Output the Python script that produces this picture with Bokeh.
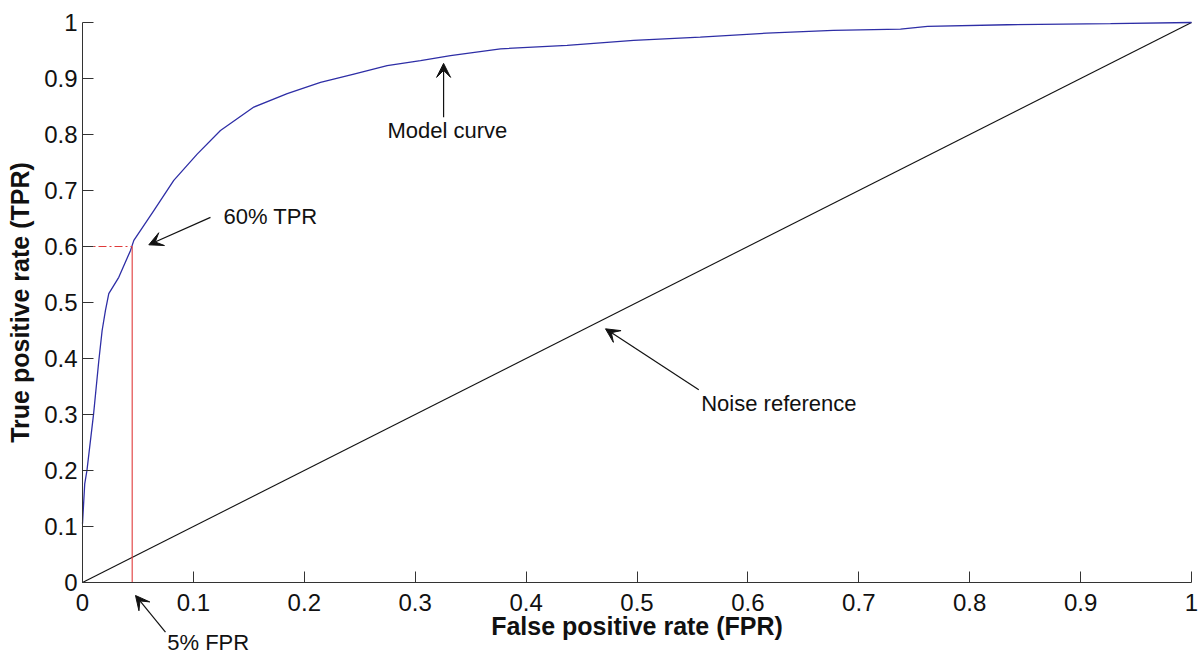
from bokeh.plotting import figure
from bokeh.models import (Range1d, FixedTicker, CustomJSTickFormatter, Label, Arrow, VeeHead)
from bokeh.embed import file_html
from bokeh.resources import INLINE

# Model ROC curve
fpr = [0.0, 0.002, 0.004, 0.010, 0.0147, 0.0177, 0.0207, 0.0237, 0.0327, 0.0433, 0.0463,
       0.0643, 0.0823, 0.1034, 0.1244, 0.1545, 0.1846, 0.2146, 0.2447, 0.2747, 0.3048,
       0.3318, 0.3769, 0.437, 0.497, 0.557, 0.617, 0.677, 0.7376, 0.762, 0.834, 0.927, 1.0]
tpr = [0.105, 0.176, 0.2, 0.301, 0.396, 0.45, 0.486, 0.516, 0.545, 0.593, 0.611,
       0.664, 0.718, 0.765, 0.807, 0.849, 0.873, 0.893, 0.908, 0.923, 0.932,
       0.941, 0.953, 0.959, 0.968, 0.974, 0.981, 0.986, 0.988, 0.993, 0.996, 0.998, 1.0]

# Noise reference (diagonal)
noise_x = [0.0, 1.0]
noise_y = [0.0, 1.0]

# Operating point
op_fpr = 0.0448
op_tpr = 0.6

ticks = [0, 0.1, 0.2, 0.3, 0.4, 0.5, 0.6, 0.7, 0.8, 0.9, 1.0]

FONT = "Liberation Sans"

W, H = 1198, 656
X0_PX, Y1_PX = 82, 22          # pixel position of x=0 and y=1 on the canvas
XPX, YPX = 1109.0, 560.0       # pixels per data unit
x_lo = -X0_PX / XPX
x_hi = (W - X0_PX) / XPX
y_hi = 1.0 + Y1_PX / YPX
y_lo = 1.0 - (H - Y1_PX) / YPX

p = figure(width=W, height=H, output_backend="svg", toolbar_location=None,
           x_range=Range1d(x_lo, x_hi), y_range=Range1d(y_lo, y_hi),
           min_border=0)
p.outline_line_color = None
p.grid.visible = False
p.background_fill_color = "white"
p.border_fill_color = "white"

fmt = CustomJSTickFormatter(code="return String(Math.round(tick*10)/10);")
for ax in (p.xaxis[0], p.yaxis[0]):
    ax.ticker = FixedTicker(ticks=ticks)
    ax.formatter = fmt
    ax.bounds = (0, 1)
    ax.fixed_location = 0
    ax.major_tick_in = 11
    ax.major_tick_out = 0
    ax.minor_tick_in = 0
    ax.minor_tick_out = 0
    ax.major_tick_line_color = "#333333"
    ax.axis_line_color = "#333333"
    ax.major_label_text_font = FONT
    ax.major_label_text_font_size = "24px"
    ax.major_label_text_color = "#111111"
    ax.axis_label_text_font = FONT
    ax.axis_label_text_font_size = "25px"
    ax.axis_label_text_font_style = "bold"
    ax.axis_label_text_color = "#111111"

p.xaxis.axis_label = "False positive rate (FPR)"
p.yaxis.axis_label = "True positive rate (TPR)"
p.xaxis.major_label_standoff = 11
p.yaxis.major_label_standoff = 5
p.xaxis.axis_label_standoff = -2
p.yaxis.axis_label_standoff = 7

# Lines
p.line(noise_x, noise_y, line_color="#111111", line_width=1.1)
p.line(fpr, tpr, line_color="#2e2ea6", line_width=1.3)
p.line([op_fpr, op_fpr], [0, op_tpr], line_color="#e03a3a", line_width=1.1)
p.line([0, op_fpr], [op_tpr, op_tpr], line_color="#e03a3a", line_width=1.1, line_dash="8 3 2 3")

# Annotations
def annot(text, x, y, tail, tip):
    p.add_layout(Label(x=x, y=y, text=text, text_font=FONT, text_font_size="22px",
                       text_baseline="middle", text_align="left", text_color="#111111"))
    p.add_layout(Arrow(x_start=tail[0], y_start=tail[1], x_end=tip[0], y_end=tip[1],
                       line_color="#111111", line_width=1.2,
                       end=VeeHead(size=14, fill_color="#111111", line_color="#111111")))

annot("Model curve", 0.275, 0.807, (0.3256, 0.831), (0.3256, 0.927))
annot("60% TPR", 0.1271, 0.654, (0.1154, 0.652), (0.0598, 0.603))
annot("Noise reference", 0.5579, 0.3196, (0.5557, 0.344), (0.4716, 0.453))
annot("5% FPR", 0.0764, -0.1071, (0.0748, -0.0887), (0.0478, -0.0232))

open("out.html", "w").write(file_html(p, INLINE))
